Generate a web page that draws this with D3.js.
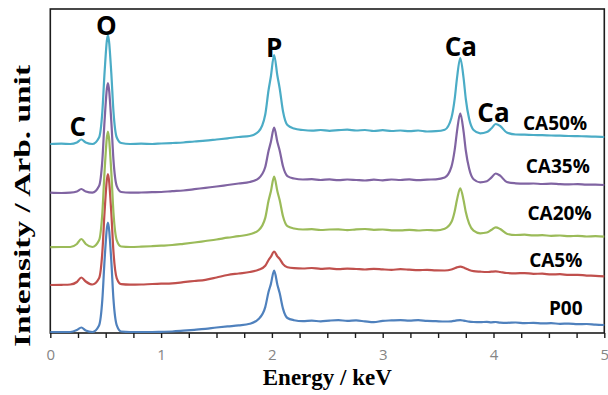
<!DOCTYPE html>
<html>
<head>
<meta charset="utf-8">
<script src="https://cdn.jsdelivr.net/npm/d3@7"></script>
<style>
  body { margin: 0; background: #fff; }
</style>
</head>
<body>
<svg id="chart" width="608" height="395"></svg>
<script>
// EDS spectra (stacked for display), energy in keV, intensity in arbitrary units
const energy = [
  0.00, 0.10, 0.18, 0.24, 0.28, 0.32, 0.38, 0.44, 0.47, 0.49,
  0.52, 0.55, 0.57, 0.60, 0.64, 0.72, 0.82, 0.92, 1.00, 1.10,
  1.20, 1.30, 1.40, 1.50, 1.60, 1.70, 1.80, 1.88, 1.94, 1.97,
  1.99, 2.02, 2.05, 2.07, 2.10, 2.14, 2.20, 2.28, 2.36, 2.44,
  2.52, 2.60, 2.68, 2.76, 2.84, 2.92, 3.00, 3.08, 3.16, 3.24,
  3.32, 3.40, 3.48, 3.56, 3.62, 3.65, 3.67, 3.70, 3.73, 3.75,
  3.78, 3.82, 3.88, 3.94, 3.98, 4.02, 4.06, 4.12, 4.20, 4.28,
  4.36, 4.44, 4.52, 4.60, 4.68, 4.76, 4.84, 4.92, 5.00
];

const p00 = [
  1, 1, 1, 3, 5.5, 2.5, 1, 7.6, 33.8, 73.1,
  110.3, 73.1, 33.8, 7.6, 1.5, 1, 1, 1, 1.2, 1.5,
  2.3, 3.2, 4.2, 5.5, 6.6, 7.6, 9.2, 14, 25.9, 41.2,
  48.6, 62.3, 48.1, 39.9, 24.4, 15, 12.8, 11.8, 12.3, 11.7,
  12.4, 12.8, 12.2, 12.6, 11.6, 10.8, 12.2, 12.6, 12.9, 12.3,
  12.8, 12.1, 11.8, 11.5, 11.7, 12.2, 12.6, 12.8, 12.4, 12,
  11.4, 11, 10.8, 11.2, 10.7, 11, 10.4, 10.2, 10.5, 9.9,
  10.1, 9.6, 9.8, 9.2, 9.4, 8.8, 9, 8.4, 8
];

const ca5 = [
  48, 48.2, 48.5, 51, 55.5, 51.5, 48.5, 54.7, 81.3, 121.3,
  159, 121.3, 81.3, 54.7, 48.8, 48.3, 48.5, 49, 49.3, 49.7,
  50.8, 52, 53.2, 55.5, 58, 59.5, 61, 63.2, 67.3, 73,
  76.2, 81.3, 76.5, 74.1, 68.9, 65.7, 64.8, 64.5, 65, 64.2,
  64.6, 63.8, 64.4, 64, 63.5, 64.2, 63.6, 63.2, 63.8, 63.3,
  62.8, 63.2, 62.6, 62.5, 63.5, 64.8, 65.6, 66.3, 65.5, 64.5,
  63, 61.8, 61.3, 61, 61.3, 61.6, 61, 60, 59.7, 59.9,
  59.2, 59.3, 58.6, 58.8, 58.1, 58.2, 57.4, 57.2, 56.6
];

const ca20 = [
  85.8, 86, 86, 89, 94, 89, 86, 92.7, 120.5, 162,
  201.3, 162, 120.5, 92.7, 86.5, 86, 86.3, 86.8, 87.3, 88,
  89.2, 90.5, 92, 93.5, 95.3, 96.8, 98.7, 102.7, 115.1, 132.4,
  141.2, 156.3, 141.4, 133, 116.7, 106.8, 104.5, 103.5, 103.8, 103,
  103.5, 103.7, 102.8, 103.6, 104, 103.2, 103.5, 102.6, 102.6, 103.2,
  102.5, 103, 102.6, 104.3, 110.9, 121.8, 133, 144.7, 132.7, 120.9,
  109.3, 102.3, 99.7, 100.5, 103, 105.7, 104, 99.3, 98, 98.3,
  97.6, 97.8, 97.2, 97.5, 96.8, 97.2, 96.5, 96.8, 96.3
];

const ca35 = [
  140.3, 140, 140.3, 141.5, 144, 141.5, 140.3, 146.9, 173.2, 212.6,
  249.8, 212.6, 173.2, 146.9, 141, 140.3, 140.5, 140.8, 141, 141.8,
  142.5, 143.8, 145.2, 146.5, 148, 149.5, 151, 154.7, 166, 182.2,
  190.7, 205.3, 190.8, 182.6, 166.7, 156.9, 154.5, 153.5, 153.8, 153,
  153.6, 152.8, 153.5, 153, 152.5, 153.3, 152.7, 153.5, 153, 153.6,
  152.8, 153.4, 153.7, 155.5, 166.1, 183.3, 201.2, 219.7, 201.4, 182.5,
  164.4, 153.7, 150.7, 151.8, 155.3, 159.5, 157.3, 151, 149.7, 149.3,
  149.5, 149, 149.3, 148.8, 148.6, 148.9, 148.3, 148.4, 148
];

const ca50 = [
  189, 189.3, 189, 190.5, 193.5, 190.5, 189, 195.5, 221.7, 260.9,
  298, 260.9, 221.7, 195.5, 190, 189, 189.3, 189, 189.5, 190,
  190.5, 191.5, 192.3, 193.5, 194.7, 196, 197, 201.5, 218.5, 243,
  256, 278, 257, 244.8, 221.8, 208, 204.5, 203, 202.3, 203,
  202.2, 202.8, 203.3, 202.5, 203, 202, 202.8, 202, 202.5, 201.8,
  202.5, 201.5, 201.8, 203.3, 215, 234.3, 254.3, 275, 254.9, 234,
  214.2, 203, 199.7, 201, 204.5, 209, 207, 200.5, 198.5, 198.3,
  198, 197.8, 197.5, 197.3, 197, 196.8, 196.7, 196.3, 196
];

const seriesNames = ["P00", "CA5%", "CA20%", "CA35%", "CA50%"];
const seriesValues = [p00, ca5, ca20, ca35, ca50];
const seriesColors = ["#4f81bd", "#c0504d", "#9bbb59", "#8064a2", "#4bacc6"];
// where each sample name sits, in (keV, intensity)
const seriesLabelEnergy = [4.652, 4.562, 4.596, 4.580, 4.555];
const seriesLabelIntensity = [18, 66.3, 113, 159.7, 203];

// element lines
const peakNames = ["C", "O", "P", "Ca", "Ca"];
const peakEnergy = [0.248, 0.507, 2.02, 3.705, 4.00];
const peakLabelIntensity = [197, 298, 276.3, 277, 211];

const xTicks = d3.range(0, 21).map(i => i * 0.25);

const svg = d3.select("#chart");
const x = d3.scaleLinear().domain([0, 5]).range([50.3, 604.3]);
const y = d3.scaleLinear().domain([0, 324]).range([333, 9]);

// plot frame
svg.append("rect")
  .attr("x", x(0)).attr("y", y(324))
  .attr("width", x(5) - x(0)).attr("height", y(0) - y(324))
  .attr("fill", "none").attr("stroke", "#1c1c1c").attr("stroke-width", 1.6);

// spectra
const line = d3.line()
  .x((d, i) => x(energy[i]))
  .y(d => y(d))
  .curve(d3.curveMonotoneX);

svg.append("g").selectAll("path")
  .data(seriesValues)
  .join("path")
  .attr("d", d => line(d))
  .attr("fill", "none")
  .attr("stroke", (d, i) => seriesColors[i])
  .attr("stroke-width", 2.2)
  .attr("stroke-linejoin", "round");

// energy axis
const xAxis = svg.append("g")
  .attr("transform", `translate(0,${y(0)})`)
  .call(d3.axisBottom(x)
    .tickValues(xTicks)
    .tickSize(5)
    .tickSizeOuter(0)
    .tickFormat(d => Number.isInteger(d) ? d3.format("d")(d) : ""));
xAxis.select(".domain").remove();
xAxis.selectAll(".tick line").attr("stroke", "#1c1c1c").attr("stroke-width", 1.4);
xAxis.selectAll(".tick text")
  .attr("y", 27).attr("dy", 0)
  .attr("fill", "#858585")
  .style("font-family", "'Open Sans', sans-serif")
  .style("font-size", "15px");

// axis titles
svg.append("text")
  .attr("x", (x(0) + x(5)) / 2).attr("y", 385)
  .attr("text-anchor", "middle")
  .style("font-family", "'Liberation Serif', serif")
  .style("font-weight", "bold")
  .style("font-size", "23px")
  .text("Energy / keV");

svg.append("text")
  .attr("transform", "translate(29.5,206) rotate(-90)")
  .attr("text-anchor", "middle")
  .attr("textLength", 282)
  .attr("lengthAdjust", "spacingAndGlyphs")
  .style("font-family", "'Liberation Serif', serif")
  .style("font-weight", "bold")
  .style("font-size", "23px")
  .text("Intensity / Arb. unit");

// element labels
svg.append("g").selectAll("text")
  .data(peakNames)
  .join("text")
  .attr("x", (d, i) => x(peakEnergy[i]))
  .attr("y", (d, i) => y(peakLabelIntensity[i]))
  .attr("text-anchor", "middle")
  .style("font-family", "'Open Sans', sans-serif")
  .style("font-weight", "bold")
  .style("font-size", "26px")
  .text(d => d);

// sample labels
svg.append("g").selectAll("text")
  .data(seriesNames)
  .join("text")
  .attr("x", (d, i) => x(seriesLabelEnergy[i]))
  .attr("y", (d, i) => y(seriesLabelIntensity[i]))
  .attr("text-anchor", "middle")
  .style("font-family", "'Open Sans', sans-serif")
  .style("font-weight", "bold")
  .style("font-size", "19px")
  .text(d => d);
</script>
</body>
</html>
